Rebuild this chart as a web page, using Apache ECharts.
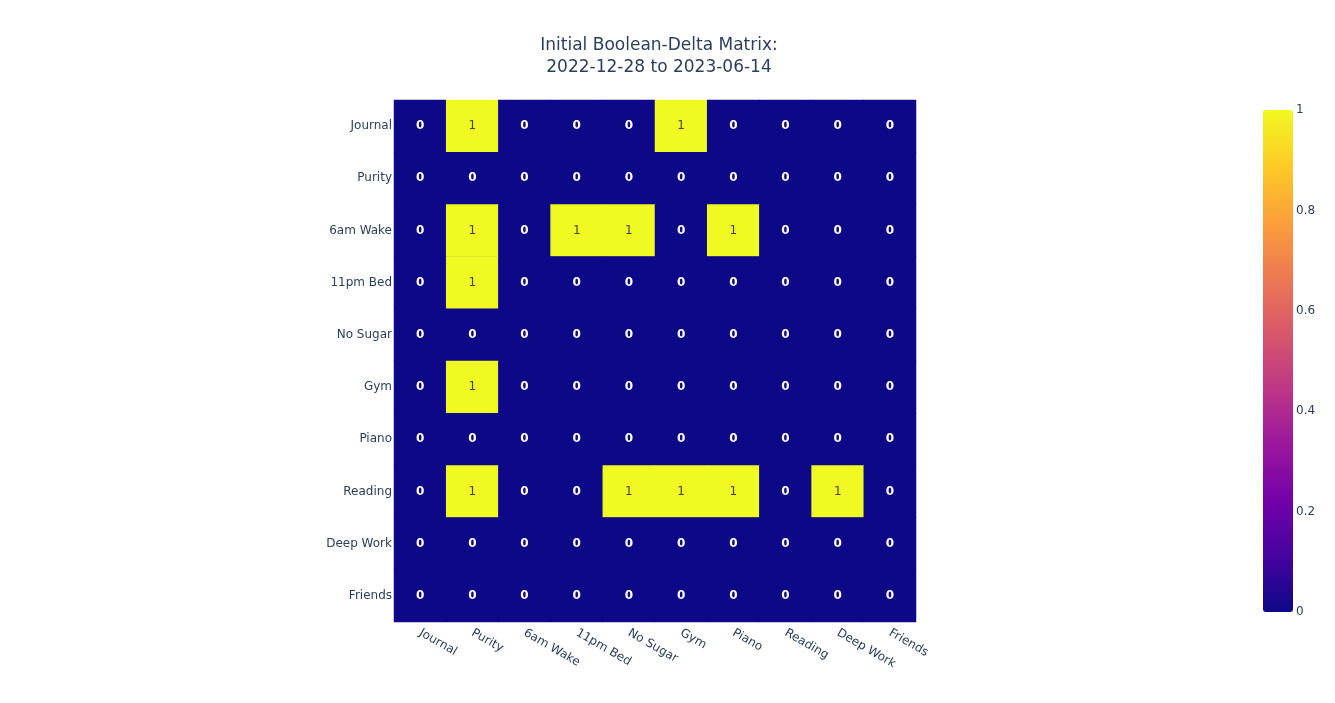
<!DOCTYPE html>
<html>
<head>
<meta charset="utf-8">
<script src="https://cdn.jsdelivr.net/npm/echarts@6.0.0/dist/echarts.min.js"></script>
<style>
  html, body { margin: 0; padding: 0; background: #fff; }
  #chart { width: 1335px; height: 703px; }
</style>
</head>
<body>
<div id="chart"></div>
<script>
const habits = ['Journal', 'Purity', '6am Wake', '11pm Bed', 'No Sugar', 'Gym', 'Piano', 'Reading', 'Deep Work', 'Friends'];

// one row per habit (y), columns follow the same order (x)
const matrix = [
    [0, 1, 0, 0, 0, 1, 0, 0, 0, 0],
    [0, 0, 0, 0, 0, 0, 0, 0, 0, 0],
    [0, 1, 0, 1, 1, 0, 1, 0, 0, 0],
    [0, 1, 0, 0, 0, 0, 0, 0, 0, 0],
    [0, 0, 0, 0, 0, 0, 0, 0, 0, 0],
    [0, 1, 0, 0, 0, 0, 0, 0, 0, 0],
    [0, 0, 0, 0, 0, 0, 0, 0, 0, 0],
    [0, 1, 0, 0, 1, 1, 1, 0, 1, 0],
    [0, 0, 0, 0, 0, 0, 0, 0, 0, 0],
    [0, 0, 0, 0, 0, 0, 0, 0, 0, 0]
];

const colorbarTicks = [0, 0.2, 0.4, 0.6, 0.8, 1];

const plasma = ['#0d0887', '#46039f', '#7201a8', '#9c179e', '#bd3786', '#d8576b', '#ed7953', '#fb9f3a', '#fdca26', '#f0f921'];

const fontFamily = '"DejaVu Sans", verdana, arial, sans-serif';
const textColor = '#2a3f5f';

const cells = [];
matrix.forEach((row, yi) => {
    row.forEach((v, xi) => {
        cells.push({
            value: [xi, yi, v],
            label: v === 1
                ? { color: '#444', fontWeight: 'normal' }
                : { color: '#fff', fontWeight: 'bold' }
        });
    });
});

const chart = echarts.init(document.getElementById('chart'));

chart.setOption({
    backgroundColor: '#fff',
    animation: false,
    title: {
        text: 'Initial Boolean-Delta Matrix:\n2022-12-28 to 2023-06-14',
        left: 654,
        top: 30,
        textAlign: 'center',
        textStyle: {
            fontFamily: fontFamily,
            fontSize: 17,
            fontWeight: 'normal',
            color: textColor,
            lineHeight: 22
        }
    },
    grid: [
        // dark backdrop so the anti-aliased seams between cells don't show
        { left: 394, top: 100, width: 522, height: 522, show: true, backgroundColor: plasma[0], borderWidth: 0 },
        { left: 1263, top: 110, width: 30, height: 502 }
    ],
    xAxis: [
        {
            type: 'category',
            gridIndex: 0,
            data: habits,
            axisLine: { show: false },
            axisTick: { show: false },
            splitLine: { show: false },
            axisLabel: {
                rotate: -30,
                interval: 0,
                margin: 10,
                fontFamily: fontFamily,
                fontSize: 12,
                color: textColor
            }
        },
        {
            type: 'value',
            gridIndex: 1,
            show: false
        }
    ],
    yAxis: [
        {
            type: 'category',
            gridIndex: 0,
            data: habits,
            inverse: true,
            axisLine: { show: false },
            axisTick: { show: false },
            splitLine: { show: false },
            axisLabel: {
                interval: 0,
                margin: 2,
                fontFamily: fontFamily,
                fontSize: 12,
                color: textColor
            }
        },
        {
            type: 'value',
            gridIndex: 1,
            min: 0,
            max: 1,
            interval: 0.2,
            position: 'right',
            axisLine: { show: false },
            axisTick: { show: false },
            splitLine: { show: false },
            axisLabel: {
                margin: 3,
                fontFamily: fontFamily,
                fontSize: 12,
                color: textColor,
                formatter: v => colorbarTicks.includes(+v.toFixed(1)) ? String(+v.toFixed(1)) : ''
            }
        }
    ],
    visualMap: {
        type: 'continuous',
        min: 0,
        max: 1,
        calculable: false,
        orient: 'vertical',
        left: 1263,
        top: 110,
        itemWidth: 30,
        itemHeight: 502,
        text: ['', ''],
        showLabel: false,
        padding: 0,
        inRange: { color: plasma },
        seriesIndex: 0
    },
    series: [
        {
            type: 'heatmap',
            xAxisIndex: 0,
            yAxisIndex: 0,
            data: cells,
            label: {
                show: true,
                fontFamily: fontFamily,
                fontSize: 12,
                formatter: p => String(p.value[2])
            },
            itemStyle: { borderWidth: 0 },
            emphasis: { disabled: true }
        }
    ]
});
</script>
</body>
</html>
